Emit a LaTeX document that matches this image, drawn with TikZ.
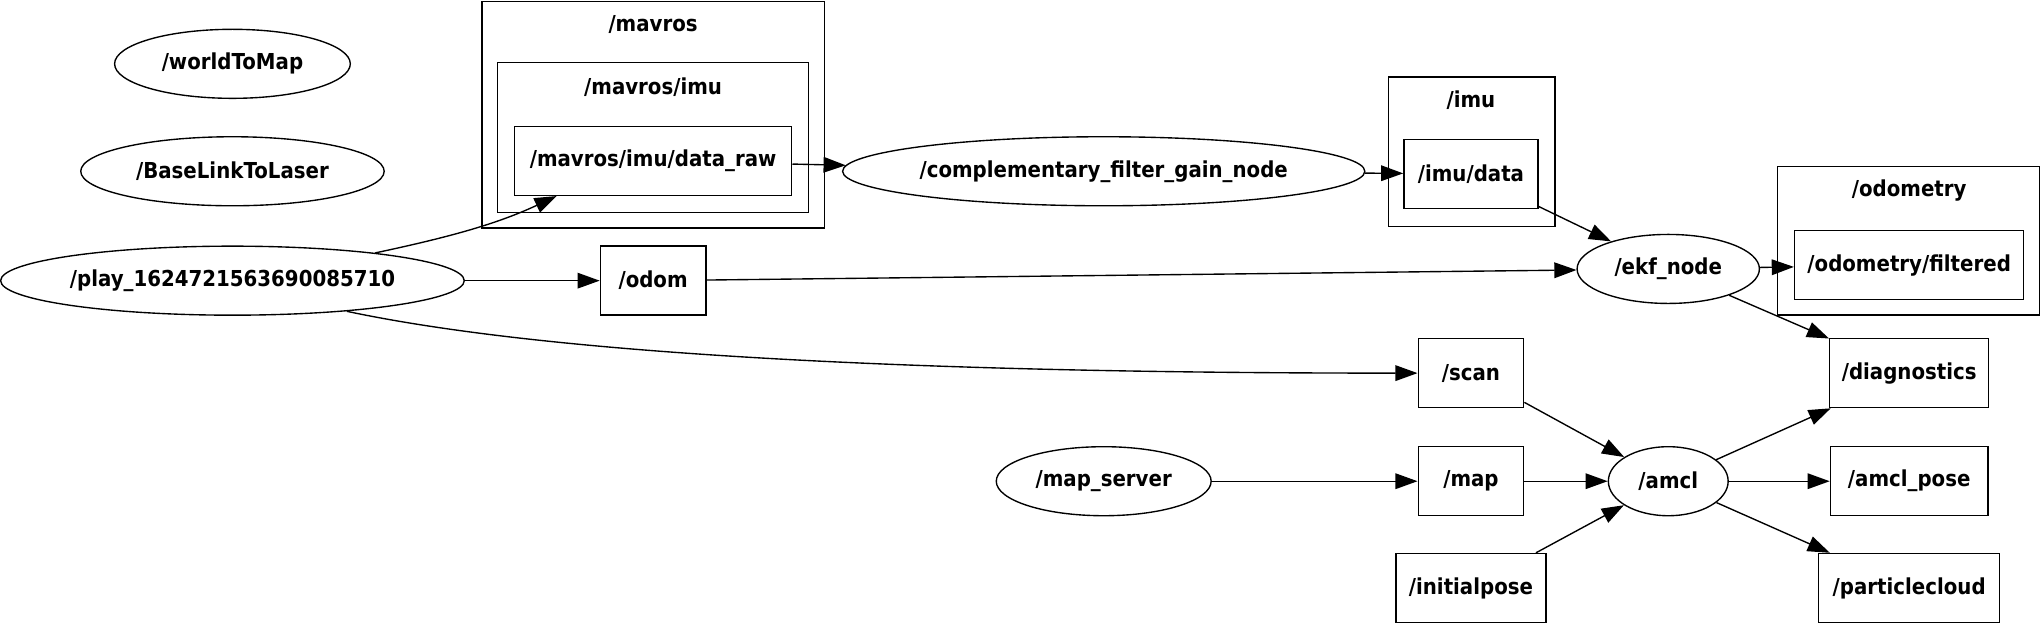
\documentclass[tikz,border=0pt]{standalone}
\usepackage{fontspec}
\setmainfont{DejaVu Sans}[FakeStretch=0.9]
\usetikzlibrary{positioning, arrows.meta, shapes.geometric}

\begin{document}
\begin{tikzpicture}[
  base/.style={
    minimum height=1.06cm, inner sep=0pt,
    line width=0.6pt, align=center,
    font=\bfseries\fontsize{9.6}{11}\selectfont,
  },
  topicbox/.style={base, draw, rectangle},
  rosnode/.style={base, draw, ellipse},
  clusterbox/.style={draw, line width=0.6pt},
  clusterlbl/.style={font=\bfseries\fontsize{9.6}{11}\selectfont},
  edgearr/.style={-{Triangle[length=0.34cm, width=0.24cm]}, line width=0.6pt},
]

% Column x-positions
\def\cA{3.57}
\def\cB{10.03}
\def\cC{16.95}
\def\cD{22.59}
\def\cE{25.62}
\def\cF{29.32}

% Row y-positions
\def\rI{-0.98}
\def\rII{-2.63}
\def\rIII{-4.31}
\def\rIV{-5.73}
\def\rV{-7.39}
\def\rVI{-9.03}

\useasboundingbox (0,0) rectangle (31.36,-9.6);

% ---- Clusters ----
\draw[clusterbox] (7.40,-0.02) rectangle (12.66,-3.50);
\draw[clusterbox] (7.64,-0.96) rectangle (12.42,-3.26);
\draw[clusterbox] (21.32,-1.18) rectangle (23.88,-3.48);
\draw[clusterbox] (27.30,-2.56) rectangle (31.32,-4.84);

\node[clusterlbl] (lblMavros) at (\cB, -0.38) {/mavros};
\node[clusterlbl] (lblMavrosImu) at (\cB, -1.34) {/mavros/imu};
\node[clusterlbl] (lblImu) at (\cD, -1.54) {/imu};
\node[clusterlbl] (lblOdometry) at (\cF, -2.92) {/odometry};

% ======== Nodes ========
\node[rosnode, minimum width=3.62cm] (nWorld) at (\cA, \rI) {/worldToMap};
\node[rosnode, minimum width=4.66cm] (nBase) at (\cA, \rII) {/BaseLinkToLaser};
\node[rosnode, minimum width=7.12cm] (nPlay) at (\cA, \rIII) {/play\_1624721563690085710};
\node[rosnode, minimum width=8.02cm] (nFilter) at (\cC, \rII) {/complementary\_filter\_gain\_node};
\node[rosnode, minimum width=2.80cm] (nEkf) at (\cE, \rIII+0.18) {/ekf\_node};
\node[rosnode, minimum width=3.30cm] (nMapServer) at (\cC, \rV) {/map\_server};
\node[rosnode, minimum width=1.84cm] (nAmcl) at (\cE, \rV) {/amcl};

% ======== Topics ========
\node[topicbox, minimum width=4.26cm] (tRaw) at (\cB, -2.47) {/mavros/imu/data\_raw};
\node[topicbox, minimum width=2.06cm] (tImu) at (\cD, -2.67) {/imu/data};
\node[topicbox, minimum width=1.62cm] (tOdom) at (\cB, \rIII) {/odom};
\node[topicbox, minimum width=3.52cm] (tFiltered) at (\cF, -4.07) {/odometry/filtered};
\node[topicbox, minimum width=1.62cm] (tScan) at (\cD, \rIV) {/scan};
\node[topicbox, minimum width=2.44cm] (tDiag) at (\cF, \rIV) {/diagnostics};
\node[topicbox, minimum width=1.62cm] (tMap) at (\cD, \rV) {/map};
\node[topicbox, minimum width=2.42cm] (tPose) at (\cF, \rV) {/amcl\_pose};
\node[topicbox, minimum width=2.30cm] (tInit) at (\cD, \rVI) {/initialpose};
\node[topicbox, minimum width=2.78cm] (tCloud) at (\cF, \rVI) {/particlecloud};

% ======== Edges ========
\draw[edgearr] (nPlay.11) .. controls +(12:1.2) and +(-155:1.0) .. ([xshift=0.66cm]tRaw.south west);
\draw[edgearr] (nPlay) -- (tOdom);
\draw[edgearr] (nPlay.-15) .. controls +(-12:4.1) and +(180:4.8) .. (tScan.west);
\draw[edgearr] (tRaw) -- (nFilter);
\draw[edgearr] (nFilter) -- (tImu);
\draw[edgearr] (tImu) -- (nEkf);
\draw[edgearr] (tOdom) -- (nEkf);
\draw[edgearr] (nEkf) -- (tFiltered);
\draw[edgearr] (nEkf) -- (tDiag);
\draw[edgearr] (nMapServer) -- (tMap);
\draw[edgearr] (tScan) -- (nAmcl);
\draw[edgearr] (tMap) -- (nAmcl);
\draw[edgearr] (tInit) -- (nAmcl);
\draw[edgearr] (nAmcl) -- (tDiag);
\draw[edgearr] (nAmcl) -- (tPose);
\draw[edgearr] (nAmcl) -- (tCloud);

\end{tikzpicture}
\end{document}
